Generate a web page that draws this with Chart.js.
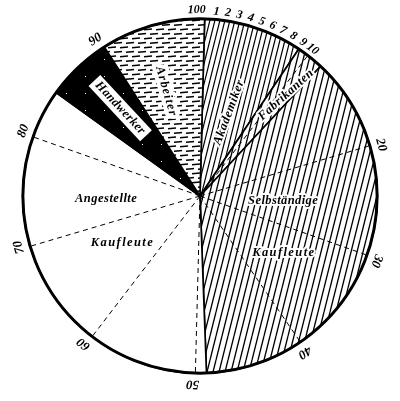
<!DOCTYPE html>
<html><head><meta charset="utf-8">
<script src="https://cdn.jsdelivr.net/npm/chart.js@4"></script>
<style>html,body{margin:0;padding:0;background:#fff;}#wrap{width:400px;height:401px;position:relative;}</style>
</head><body><div id="wrap"><canvas id="c" width="400" height="401"></canvas></div>
<script>
// ---- data ----
const categories = ['Akademiker', 'Fabrikanten', 'Selbständige Kaufleute', 'Angestellte Kaufleute', 'Handwerker', 'Arbeiter'];
const shares = [9, 2.5, 37.5, 35.5, 6, 9.5];
const minorTicks = [1, 2, 3, 4, 5, 6, 7, 8, 9, 10];
const majorTicks = [20, 30, 40, 50, 60, 70, 80, 90];
const gridTicks = [10, 20, 30, 40, 50, 60, 70, 80, 90];
const zeroLabel = '100';

// ---- layout of sector texts (polar: percent position, radius fraction, rotation deg) ----
const textLayout = [
  {text: 'Akademiker', pct: 4.9, rf: 0.50, rot: -69.5, halo: true, spacing: 0.6},
  {text: 'Fabrikanten', pct: 10.8, rf: 0.75, rot: -42, halo: true, spacing: 0.5},
  {text: 'Selbständige', pct: 25.5, rf: 0.47, rot: 0, halo: true, spacing: 0.4},
  {text: 'Kaufleute', pct: 34.0, rf: 0.57, rot: 0, halo: true, spacing: 1.4},
  {text: 'Angestellte', pct: 74.1, rf: 0.53, rot: 0, halo: false, spacing: 0.5},
  {text: 'Kaufleute', pct: 66.0, rf: 0.51, rot: 0, halo: false, spacing: 1.4},
  {text: 'Handwerker', pct: 87.85, rf: 0.67, rot: 47, box: true, spacing: 0.3},
  {text: 'Arbeiter', pct: 94.6, rf: 0.62, rot: 74, halo: true, haloW: 8, spacing: 1.2}
];
const ROT_DEG = 1.5;

// ---- patterns ----
function hatch(w, h, lw) {
  const c = document.createElement('canvas'); c.width = w; c.height = h;
  const g = c.getContext('2d');
  g.fillStyle = '#fff'; g.fillRect(0, 0, w, h);
  g.strokeStyle = '#000'; g.lineWidth = lw;
  for (let k = -1; k <= 1; k++) { g.beginPath(); g.moveTo(k * w, h); g.lineTo(k * w + w, 0); g.stroke(); }
  return g.createPattern(c, 'repeat');
}
function dashes() {
  const c = document.createElement('canvas'); c.width = 12; c.height = 9;
  const g = c.getContext('2d');
  g.fillStyle = '#fff'; g.fillRect(0, 0, 12, 9);
  g.strokeStyle = '#000'; g.lineWidth = 1.4;
  g.beginPath(); g.moveTo(0, 2.8); g.lineTo(8, 2); g.stroke();
  g.beginPath(); g.moveTo(6, 7.3); g.lineTo(14, 6.5); g.stroke();
  g.beginPath(); g.moveTo(-6, 7.3); g.lineTo(2, 6.5); g.stroke();
  return g.createPattern(c, 'repeat');
}
function specks() {
  const c = document.createElement('canvas'); c.width = 19; c.height = 17;
  const g = c.getContext('2d');
  g.fillStyle = '#000'; g.fillRect(0, 0, 19, 17);
  g.fillStyle = '#fff'; g.fillRect(9, 8, 1, 1);
  return g.createPattern(c, 'repeat');
}
const wideHatch = hatch(6, 24, 1.3);
const fills = [hatch(5, 20, 1.2), wideHatch, wideHatch, '#fff', specks(), dashes()];

function ang(p) { return -Math.PI / 2 + ROT_DEG * Math.PI / 180 + p / 100 * 2 * Math.PI; }

const decor = {
  id: 'decor',
  afterDatasetsDraw(chart) {
    const arc = chart.getDatasetMeta(0).data[0];
    const cx = arc.x, cy = arc.y, R = arc.outerRadius;
    const ctx = chart.ctx;
    ctx.save();
    // dashed grid rays
    ctx.strokeStyle = '#000'; ctx.lineWidth = 1; ctx.setLineDash([5, 4]);
    gridTicks.forEach(v => {
      const a = ang(v);
      ctx.beginPath(); ctx.moveTo(cx, cy); ctx.lineTo(cx + R * Math.cos(a), cy + R * Math.sin(a)); ctx.stroke();
    });
    ctx.setLineDash([]);
    // outer circle
    ctx.lineWidth = 3;
    ctx.beginPath(); ctx.arc(cx, cy, R, 0, Math.PI * 2); ctx.stroke();
    // tick labels
    ctx.fillStyle = '#000'; ctx.textAlign = 'center'; ctx.textBaseline = 'middle';
    const tickText = (t, p, r, size) => {
      const a = ang(p);
      ctx.save();
      ctx.translate(cx + r * Math.cos(a), cy + r * Math.sin(a));
      ctx.rotate(a + Math.PI / 2);
      ctx.font = 'italic bold ' + size + 'px "Liberation Serif"';
      ctx.fillText(t, 0, 0);
      ctx.restore();
    };
    tickText(zeroLabel, -0.7, R + 9, 12);
    minorTicks.forEach(v => tickText(String(v), v, R + 8, 12));
    majorTicks.forEach(v => tickText(String(v), v + 0.2, R + 11, 13));
    // sector texts
    textLayout.forEach(L => {
      const a = ang(L.pct);
      const r = L.rf * R;
      ctx.save();
      ctx.translate(cx + r * Math.cos(a), cy + r * Math.sin(a));
      ctx.rotate(L.rot * Math.PI / 180);
      ctx.font = 'italic bold 12.5px "Liberation Serif"';
      try { ctx.letterSpacing = L.spacing + 'px'; } catch (e) {}
      const w = ctx.measureText(L.text).width;
      if (L.box) {
        ctx.fillStyle = '#fff';
        ctx.fillRect(-w / 2 - 4, -8, w + 8, 16);
      }
      if (L.halo) {
        ctx.strokeStyle = '#fff'; ctx.lineWidth = L.haloW || 4; ctx.lineJoin = 'round';
        ctx.strokeText(L.text, 0, 0);
      }
      ctx.fillStyle = '#000';
      ctx.fillText(L.text, 0, 0);
      ctx.restore();
    });
    ctx.restore();
  }
};

new Chart(document.getElementById('c'), {
  type: 'pie',
  data: {
    labels: categories,
    datasets: [{
      data: shares,
      backgroundColor: fills,
      borderColor: '#000',
      borderWidth: 1.7
    }]
  },
  options: {
    responsive: false,
    animation: false,
    events: [],
    rotation: ROT_DEG,
    layout: {padding: {left: 22, right: 22, top: 18, bottom: 27}},
    plugins: {legend: {display: false}, tooltip: {enabled: false}}
  },
  plugins: [decor]
});
</script>
</body></html>
